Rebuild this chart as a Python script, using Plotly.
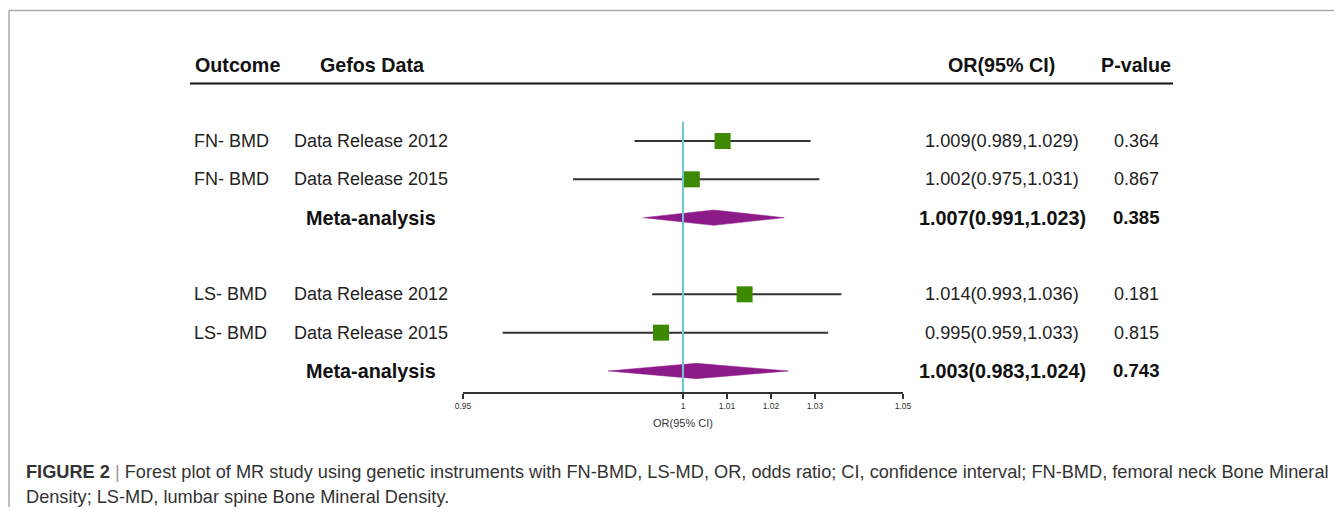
import plotly.graph_objects as go

# ---- data ----
outcomes = ["FN- BMD", "FN- BMD", "", "LS- BMD", "LS- BMD", ""]
sources = ["Data Release 2012", "Data Release 2015", "Meta-analysis",
           "Data Release 2012", "Data Release 2015", "Meta-analysis"]
or_est = [1.009, 1.002, 1.007, 1.014, 0.995, 1.003]
ci_low = [0.989, 0.975, 0.991, 0.993, 0.959, 0.983]
ci_high = [1.029, 1.031, 1.023, 1.036, 1.033, 1.024]
or_text = ["1.009(0.989,1.029)", "1.002(0.975,1.031)", "1.007(0.991,1.023)",
           "1.014(0.993,1.036)", "0.995(0.959,1.033)", "1.003(0.983,1.024)"]
p_values = ["0.364", "0.867", "0.385", "0.181", "0.815", "0.743"]
is_meta = [False, False, True, False, False, True]
row_pos = [0, 1, 2, 4, 5, 6]
headers = ["Outcome", "Gefos Data", "OR(95% CI)", "P-value"]
tick_vals = [0.95, 1, 1.01, 1.02, 1.03, 1.05]
tick_text = ["0.95", "1", "1.01", "1.02", "1.03", "1.05"]

# page has an 8px body margin; figure fills the remaining area
OFF = 8
W, H = 1342 - 2 * OFF, 515 - 2 * OFF
FONT = "Liberation Sans, Arial, sans-serif"
GREEN = "#3d8a00"
PURPLE = "#8c1a88"
TEAL = "#72c4cd"

def px(x):
    return (x - OFF) / W

def py(y):
    return 1 - (y - OFF) / H

ROW0 = 141 - OFF
STEP = 38.33
AXIS = 392 - OFF

fig = go.Figure()

st = [i for i, m in enumerate(is_meta) if not m]
fig.add_trace(go.Scatter(
    x=[or_est[i] for i in st], y=[row_pos[i] for i in st], mode="markers",
    marker=dict(symbol="square", size=16, color=GREEN, line=dict(width=0)),
    error_x=dict(type="data", symmetric=False,
                 array=[ci_high[i] - or_est[i] for i in st],
                 arrayminus=[or_est[i] - ci_low[i] for i in st],
                 color="#333333", thickness=2, width=0),
    showlegend=False, hoverinfo="skip"))

h = 0.2
for i, m in enumerate(is_meta):
    if m:
        r = row_pos[i]
        fig.add_trace(go.Scatter(
            x=[ci_low[i], or_est[i], ci_high[i], or_est[i], ci_low[i]],
            y=[r, r - h, r, r + h, r], mode="lines", fill="toself",
            fillcolor=PURPLE, line=dict(color=PURPLE, width=0.5),
            showlegend=False, hoverinfo="skip"))

fig.add_shape(type="line", xref="x", yref="y", x0=1, x1=1, y0=-0.5,
              y1=(AXIS - ROW0) / STEP,
              line=dict(color=TEAL, width=2), layer="above")

ann = []
hy = -1.97
HS = 19.7
hdr_pos = [(193, "left"), (372, "center"), (1001, "center"), (1136, "center")]
for t, (x, a) in zip(headers, hdr_pos):
    ann.append(dict(x=px(x), y=hy, xref="paper", yref="y", text="<b>" + t + "</b>",
                    xanchor=a, showarrow=False, font=dict(size=HS, color="#111", family=FONT)))

for i in range(len(row_pos)):
    r = row_pos[i]
    b = is_meta[i]
    col = "#111" if b else "#222"
    if outcomes[i]:
        ann.append(dict(x=px(192), y=r, xref="paper", yref="y", text=outcomes[i],
                        xanchor="left", showarrow=False, font=dict(size=18, color=col, family=FONT)))
    ann.append(dict(x=px(371), y=r, xref="paper", yref="y",
                    text=("<b>%s</b>" % sources[i]) if b else sources[i],
                    xanchor="center", showarrow=False,
                    font=dict(size=19.8 if b else 18, color=col, family=FONT)))
    ann.append(dict(x=px(1002), y=r, xref="paper", yref="y",
                    text=("<b>%s</b>" % or_text[i]) if b else or_text[i],
                    xanchor="center", showarrow=False,
                    font=dict(size=19.8 if b else 18.2, color=col, family=FONT)))
    ann.append(dict(x=px(1136), y=r, xref="paper", yref="y",
                    text=("<b>%s</b>" % p_values[i]) if b else p_values[i],
                    xanchor="center", showarrow=False,
                    font=dict(size=18.6 if b else 18, color=col, family=FONT)))

CAP = "#333333"
ann.append(dict(x=px(24), y=py(472), xref="paper", yref="paper", xanchor="left", yanchor="middle",
                text="<b>FIGURE 2</b> <span style='color:#999'>|</span> Forest plot of MR study using genetic instruments with FN-BMD, LS-MD, OR, odds ratio; CI, confidence interval; FN-BMD, femoral neck Bone Mineral",
                showarrow=False, font=dict(size=18.2, color=CAP, family=FONT)))
ann.append(dict(x=px(24), y=py(497), xref="paper", yref="paper", xanchor="left", yanchor="middle",
                text="Density; LS-MD, lumbar spine Bone Mineral Density.",
                showarrow=False, font=dict(size=18.2, color=CAP, family=FONT)))

shapes = [
    dict(type="line", xref="paper", yref="y", x0=px(190), x1=px(1173), y0=-1.5, y1=-1.5,
         line=dict(color="#111", width=2)),
    dict(type="line", xref="paper", yref="paper", x0=px(9), x1=1.02, y0=py(10.5), y1=py(10.5),
         line=dict(color="#aaaaaa", width=1.5)),
    dict(type="line", xref="paper", yref="paper", x0=px(9), x1=px(9), y0=py(10.5), y1=-0.03,
         line=dict(color="#aaaaaa", width=1.5)),
]
for s in shapes:
    fig.add_shape(**s)

fig.update_layout(
    width=W, height=H, margin=dict(l=0, r=0, t=0, b=0, autoexpand=False),
    paper_bgcolor="white", plot_bgcolor="white",
    annotations=ann,
    xaxis=dict(domain=[px(463), px(903)], range=[0.95, 1.05], tickvals=tick_vals,
               ticktext=tick_text, showline=True, linecolor="#333", linewidth=1.5,
               ticks="outside", ticklen=5, tickcolor="#333", tickwidth=1.5,
               tickfont=dict(size=8.5, color="#333", family=FONT),
               showgrid=False, zeroline=False, automargin=False,
               title=dict(text="OR(95% CI)", font=dict(size=11, color="#333", family=FONT), standoff=9)),
    yaxis=dict(domain=[1 - AXIS / H, 1], range=[(AXIS - ROW0) / STEP, -ROW0 / STEP],
               visible=False, showgrid=False, zeroline=False, automargin=False),
)

fig.write_html("out.html")
